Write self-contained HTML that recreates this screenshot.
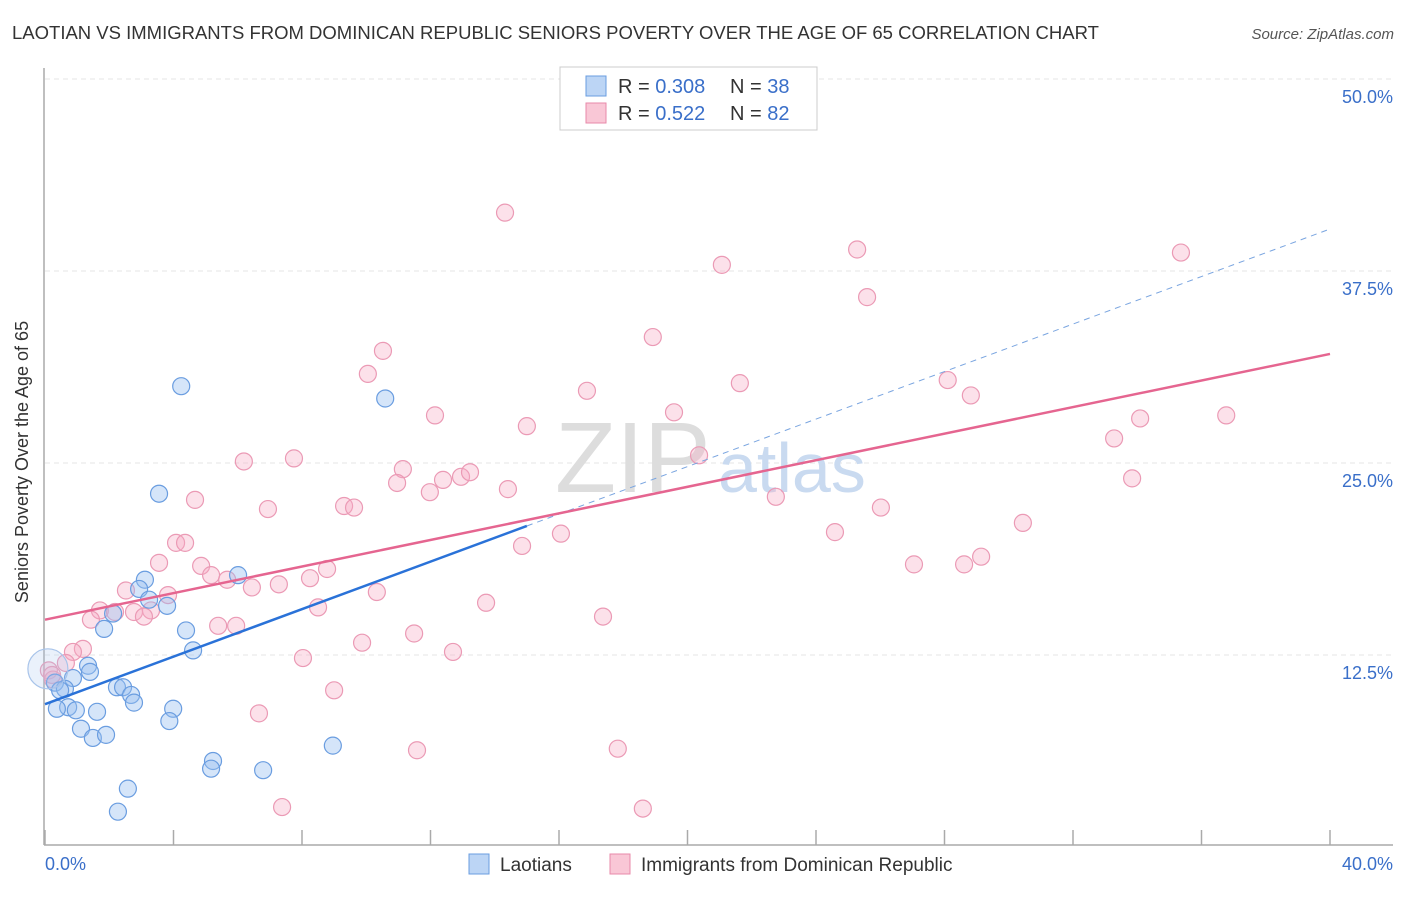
<!DOCTYPE html>
<html><head><meta charset="utf-8"><style>
body{margin:0;background:#fff;font-family:"Liberation Sans",sans-serif;}
svg text{font-family:"Liberation Sans",sans-serif;}
</style></head><body>
<svg width="1406" height="892" xmlns="http://www.w3.org/2000/svg">
<text x="12" y="39" font-size="18.5" fill="#333">LAOTIAN VS IMMIGRANTS FROM DOMINICAN REPUBLIC SENIORS POVERTY OVER THE AGE OF 65 CORRELATION CHART</text>
<text x="1394" y="39" font-size="15" fill="#555" font-style="italic" text-anchor="end">Source: ZipAtlas.com</text>
<g id="grid"></g>
<text x="555" y="492" font-size="100" fill="#ddd" font-family="Liberation Serif">ZIP</text>
<text x="718" y="492" font-size="70" fill="#c9daf0">atlas</text>
<line x1="44" y1="68" x2="44" y2="845" stroke="#aaa" stroke-width="1.5"/>
<line x1="44" y1="845" x2="1393" y2="845" stroke="#aaa" stroke-width="1.5"/>
<g id="ticks"></g>
<g id="pts"></g>
<g id="lines"></g>
<text x="22" y="456" font-size="18" fill="#333" text-anchor="middle" transform="rotate(-90 28 456)">Seniors Poverty Over the Age of 65</text>
<text x="45" y="870" font-size="18" fill="#3a6fc9">0.0%</text>
<text x="1393" y="870" font-size="18" fill="#3a6fc9" text-anchor="end">40.0%</text>
<g>
<rect x="560" y="67" width="257" height="63" fill="#fff" stroke="#ccc"/>
<rect x="586" y="76" width="20" height="20" fill="#bcd5f5" stroke="#6a9de0"/>
<rect x="586" y="103" width="20" height="20" fill="#f9c7d6" stroke="#e88aaa"/>
<text x="618" y="93" font-size="20" fill="#333">R = <tspan fill="#3a6fc9">0.308</tspan><tspan x="730">N = </tspan><tspan fill="#3a6fc9">38</tspan></text>
<text x="618" y="120" font-size="20" fill="#333">R = <tspan fill="#3a6fc9"> 0.522</tspan><tspan x="730">N = </tspan><tspan fill="#3a6fc9">82</tspan></text>
</g>
<g>
<rect x="469" y="854" width="20" height="20" fill="#bcd5f5" stroke="#6a9de0"/>
<text x="500" y="871" font-size="19" fill="#333">Laotians</text>
<rect x="610" y="854" width="20" height="20" fill="#f9c7d6" stroke="#e88aaa"/>
<text x="641" y="871" font-size="19" fill="#333">Immigrants from Dominican Republic</text>
</g>
</svg>
<script>
const yTicks=[12.5,25,37.5,50];
const xTicks=[0,4,8,12,16,20,24,28,32,36,40];
const laoX=[4.24,10.59,3.55,3.11,2.93,6.01,3.24,3.80,2.12,1.84,4.39,4.61,1.34,1.40,0.87,0.31,0.62,0.47,2.24,2.43,2.68,2.77,3.99,0.72,1.62,0.37,0.96,3.87,1.12,1.49,1.90,5.23,5.17,6.79,8.96,2.58,2.27,0.09];
const laoY=[30.0,29.2,23.0,17.4,16.8,17.7,16.1,15.7,15.2,14.2,14.1,12.8,11.8,11.4,11.0,10.7,10.3,10.2,10.4,10.4,9.9,9.4,9.0,9.1,8.8,9.0,8.9,8.2,7.7,7.1,7.3,5.6,5.1,5.0,6.6,3.8,2.3,11.6];
const domX=[14.32,25.28,35.36,21.07,25.59,18.92,10.52,10.05,21.63,28.10,16.87,28.82,12.14,19.58,36.77,34.09,15.00,33.28,11.14,20.36,6.19,7.75,10.96,12.39,12.95,13.23,11.98,14.41,4.67,6.94,9.31,9.62,22.75,33.84,26.02,30.44,16.06,24.59,4.08,4.36,14.85,3.55,4.86,8.78,29.14,27.05,28.61,5.17,5.67,8.25,7.28,6.44,2.52,3.83,10.33,3.30,1.71,2.18,2.77,3.08,1.43,13.73,8.50,17.37,5.39,5.95,11.49,9.87,1.18,0.87,12.70,8.03,0.65,9.00,6.66,0.12,0.25,11.58,17.83,7.38,18.61,0.22];
const domY=[41.3,38.9,38.7,37.9,35.8,33.2,32.3,30.8,30.2,30.4,29.7,29.4,28.1,28.3,28.1,27.9,27.4,26.6,24.6,25.5,25.1,25.3,23.7,23.9,24.1,24.4,23.1,23.3,22.6,22.0,22.2,22.1,22.8,24.0,22.1,21.1,20.4,20.5,19.8,19.8,19.6,18.5,18.3,18.1,18.9,18.4,18.4,17.7,17.4,17.5,17.1,16.9,16.7,16.4,16.6,15.4,15.4,15.3,15.3,15.0,14.8,15.9,15.6,15.0,14.4,14.4,13.9,13.3,12.9,12.7,12.7,12.3,11.98,10.2,8.7,11.5,10.9,6.3,6.4,2.6,2.5,11.2];
const laoLine=[9.3,20.9];
const domLine=[14.8,32.1];
const NS="http://www.w3.org/2000/svg";
const sx=v=>45+v/40*1285, sy=v=>847-v*15.36;
function mk(t,a,p){const e=document.createElementNS(NS,t);for(const k in a)e.setAttribute(k,a[k]);p.appendChild(e);return e;}
const grid=document.getElementById('grid');
yTicks.forEach(v=>{
 const l=mk('line',{x1:45,x2:1393,y1:sy(v),y2:sy(v),stroke:'#e6e6e6','stroke-dasharray':'5,4'},grid);
 
 
 const t=mk('text',{x:1393,y:sy(v)+24,'font-size':18,fill:'#3a6fc9','text-anchor':'end'},grid);
 t.textContent=v.toFixed(1)+'%';
 
 
});
const tk=document.getElementById('ticks');
xTicks.forEach(v=>{
 const l=mk('line',{x1:sx(v),x2:sx(v),y1:830,y2:845,stroke:'#aaa','stroke-width':1.5},tk);
 
 
});
const pts=document.getElementById('pts');
domX.forEach((x,i)=>{
 const c=mk('circle',{cx:sx(x),cy:sy(domY[i]),r:8.5,fill:'rgba(246,170,195,0.35)',stroke:'#eb9ab5','stroke-width':1.2},pts);
 
 
});
laoX.forEach((x,i)=>{
 const big=i==37;
 const c=mk('circle',{cx:sx(x),cy:sy(laoY[i]),r:big?20:8.5,fill:big?'rgba(170,200,240,0.25)':'rgba(150,190,240,0.4)',stroke:big?'#a8c4ea':'#6a9de0','stroke-width':1.2},pts);
 
 
});
const ln=document.getElementById('lines');
const lx=x=>laoLine[0]+(laoLine[1]-laoLine[0])*x/15;
let a=mk('line',{x1:sx(0),y1:sy(lx(0)),x2:sx(15),y2:sy(lx(15)),stroke:'#2a72d8','stroke-width':2.5},ln);


a=mk('line',{x1:sx(15),y1:sy(lx(15)),x2:sx(40),y2:sy(lx(40)),stroke:'#7aa5e0','stroke-width':1,'stroke-dasharray':'6,5'},ln);


a=mk('line',{x1:sx(0),y1:sy(domLine[0]),x2:sx(40),y2:sy(domLine[1]),stroke:'#e56590','stroke-width':2.5},ln);


</script>
</body></html>
